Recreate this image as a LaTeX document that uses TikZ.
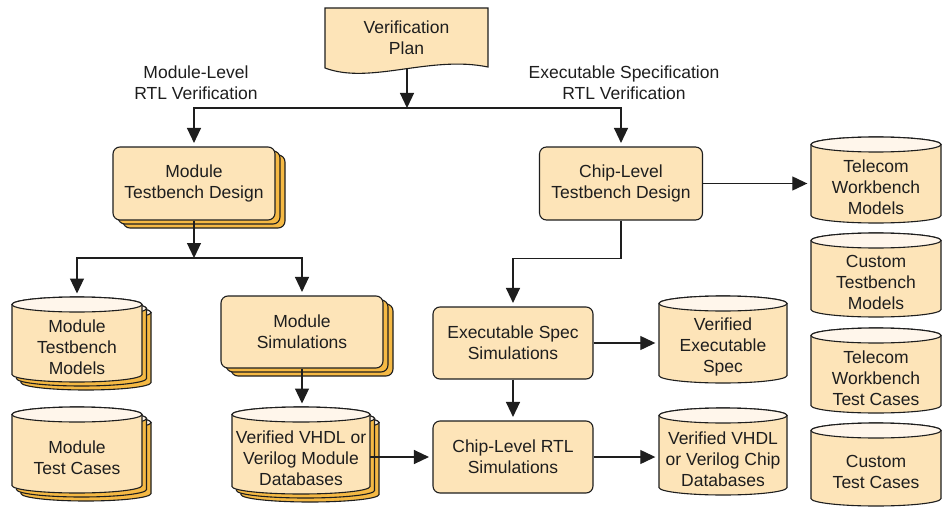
\documentclass[tikz,border=0pt]{standalone}
\usepackage{fontspec}
\setmainfont{Liberation Sans}
\usetikzlibrary{arrows.meta,calc}
\definecolor{boxfill}{HTML}{FDE4B8}
\definecolor{backfill}{HTML}{F5B944}
\definecolor{topfill}{HTML}{FFF6EB}
\definecolor{ink}{HTML}{1E1E1E}
\tikzset{
 every node/.style={font=\fontsize{17.5}{21}\selectfont, text=ink},
 outl/.style={draw=ink, line width=1.1pt},
 proc/.style={outl, fill=boxfill, rounded corners=7pt, align=center, inner sep=0pt},
 procback/.style={outl, fill=backfill, rounded corners=7pt, inner sep=0pt},
 lbl/.style={align=center, inner sep=0pt},
 cyltext/.style={align=center, inner sep=0pt},
 arrj/.style={draw=ink, line width=1.2pt, -{Triangle[width=14pt,length=15pt]}},
 arr/.style={arrj, shorten >=3.5pt},
}
\newcommand\procbox[6]{%
 \node[proc, minimum width=#4pt, minimum height=#5pt] (#1) at (#2,#3) {#6};}
\newcommand\stackbox[6]{%
 \node[procback, minimum width=#4pt, minimum height=#5pt] (#1-b2) at (#2+10,#3+8) {};
 \node[procback, minimum width=#4pt, minimum height=#5pt] (#1-b1) at (#2+5,#3+4) {};
 \procbox{#1}{#2}{#3}{#4}{#5}{#6}}
\newcommand\cylshape[5]{%
 \filldraw[outl, fill=#5] (#1-#2,#3+7.5) -- (#1-#2,#4-7.5)
   arc[start angle=180,end angle=360,x radius=#2pt,y radius=7.5pt]
   -- (#1+#2,#3+7.5)
   arc[start angle=0,end angle=180,x radius=#2pt,y radius=7.5pt] -- cycle;
 \filldraw[outl, fill=topfill] (#1,#3+7.5) ellipse[x radius=#2pt, y radius=7.5pt];}
\newcommand\cyl[6]{%
 \cylshape{#2}{#3}{#4}{#5}{boxfill}
 \node[cyltext, minimum width=2*#3pt, minimum height={(#5-#4-15)*1pt}] (#1) at (#2,{(#4+15+#5)/2}) {#6};
 \coordinate (#1-top) at (#2,#4);}
\newcommand\stackcyl[6]{%
 \cylshape{#2+9}{#3}{#4+8}{#5+8}{backfill}
 \cylshape{#2+4.5}{#3}{#4+4}{#5+4}{backfill}
 \cyl{#1}{#2}{#3}{#4}{#5}{#6}}
\begin{document}
\begin{tikzpicture}[x=1pt,y=-1pt]
\fill[white] (0,0) rectangle (949,508);
\useasboundingbox (0,0) rectangle (949,508);
% verification plan (document shape)
\filldraw[outl, fill=boxfill] (325,8) -- (488,8) -- (488,67)
  .. controls (430,55) and (370,85) .. (325,68) -- cycle;
\node[lbl, minimum width=163pt, minimum height=60pt] (plan) at (406.5,38) {Verification\\Plan};
\coordinate (plb) at (407,69.5);
\coordinate (j0) at (407,108);
% labels
\node[lbl] (lmod) at (196,83) {Module-Level\\RTL Verification};
\node[lbl] (lexe) at (624,83) {Executable Specification\\RTL Verification};
% boxes
\stackbox{mtd}{194}{183.5}{162}{73}{Module\\Testbench Design}
\procbox{ctd}{621}{183.5}{163}{73}{Chip-Level\\Testbench Design}
\stackbox{msim}{302}{332}{162}{72}{Module\\Simulations}
\procbox{esim}{513}{343}{160}{72}{Executable Spec\\Simulations}
\procbox{crtl}{513}{457}{160}{72}{Chip-Level RTL\\Simulations}
% cylinders
\stackcyl{mtm}{77}{65}{297}{382}{Module\\Testbench\\Models}
\stackcyl{mtc}{77}{65}{407}{493}{Module\\Test Cases}
\stackcyl{vvmd}{301}{69}{407}{494}{Verified VHDL or\\Verilog Module\\Databases}
\cyl{twm}{876}{65}{137}{223}{Telecom\\Workbench\\Models}
\cyl{ctm}{876}{65}{233}{317}{Custom\\Testbench\\Models}
\cyl{twtc}{876}{65}{328}{413}{Telecom\\Workbench\\Test Cases}
\cyl{ctc}{876}{65}{423}{506}{Custom\\Test Cases}
\cyl{ves}{723}{64}{296}{383}{Verified\\Executable\\Spec}
\cyl{vvcd}{723}{64}{408}{495}{Verified VHDL\\or Verilog Chip\\Databases}
% connectors
\draw[arrj] (plb) -- (j0);
\draw[arr] (j0) -| (mtd.north);
\draw[arr] (j0) -| (ctd.north);
\coordinate (j1) at (194,258);
\draw[arrj] (mtd.south) -- (j1);
\draw[arr] (j1) -| (mtm-top);
\draw[arr] (j1) -| (msim.north);
\draw[arr] (msim.south) -- (msim.south |- vvmd-top);
\draw[arr] (vvmd.east |- crtl.west) -- (crtl.west);
\draw[arr] (ctd.east) -- (ctd.east -| twm.west);
\draw[arr] (ctd.south) -- ++(0,38) -| (esim.north);
\draw[arr] (esim.east) -- (esim.east -| ves.west);
\draw[arr] (esim.south) -- (crtl.north);
\draw[arr] (crtl.east) -- (crtl.east -| vvcd.west);
\end{tikzpicture}
\end{document}
